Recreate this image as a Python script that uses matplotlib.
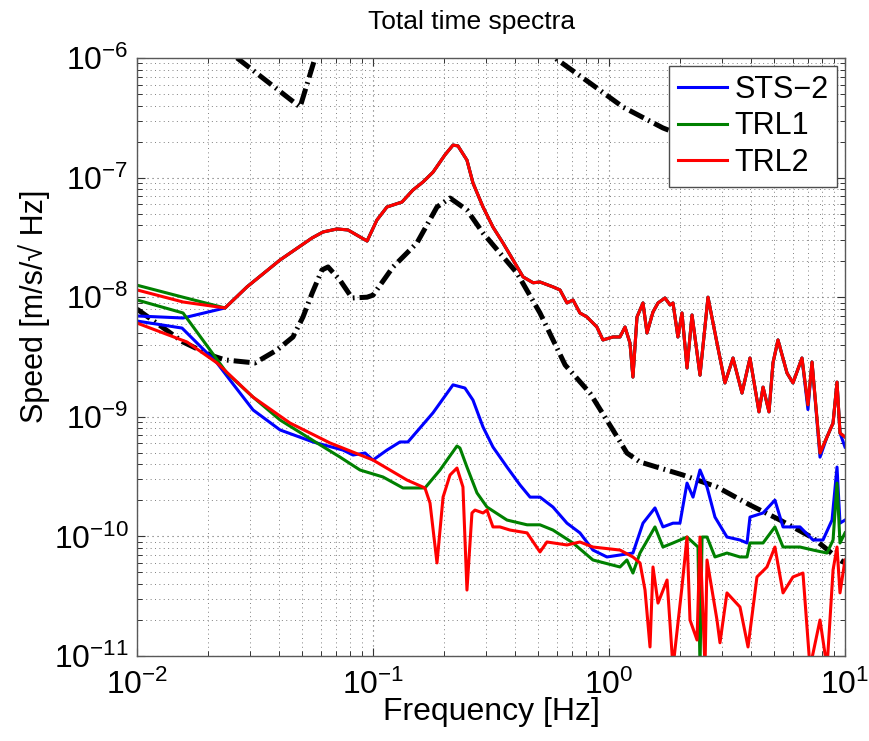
import numpy as np
import matplotlib
matplotlib.use("Agg")
import matplotlib.pyplot as plt
from matplotlib.ticker import LogLocator, NullFormatter

plt.rcParams['font.family'] = ['Liberation Sans', 'DejaVu Sans']
plt.rcParams['mathtext.fontset'] = 'custom'
plt.rcParams['mathtext.rm'] = 'Liberation Sans'
plt.rcParams['mathtext.it'] = 'Liberation Sans:italic'

# ---------------- data ----------------
# Upper (total) spectra: sensor-specific start, then common part
sts2_up_start_f = [0.0100, 0.01567]
sts2_up_start_v = [6.97e-9, 6.70e-9]
trl1_up_start_f = [0.0100, 0.01567]
trl1_up_start_v = [1.26e-8, 1.00e-8]
trl2_up_start_f = [0.0100, 0.01567]
trl2_up_start_v = [1.15e-8, 9.12e-9]

up_f = [0.02361, 0.02925, 0.0404, 0.0552, 0.0614, 0.0704, 0.0783, 0.0944, 0.1039,
        0.1146, 0.1327, 0.1476, 0.1629, 0.1796, 0.2019, 0.2183, 0.2291, 0.2501,
        0.2652, 0.2925, 0.3223, 0.3555, 0.3921, 0.4323, 0.4768, 0.5100, 0.5788,
        0.6199, 0.6637, 0.7036, 0.7530, 0.8064, 0.8888, 0.9424, 1.039, 1.113,
        1.169, 1.227, 1.263, 1.314, 1.393, 1.449, 1.536, 1.613, 1.727, 1.814,
        1.867, 1.959, 2.038, 2.141, 2.248, 2.430, 2.627, 2.868, 3.100, 3.353,
        3.661, 3.957, 4.321, 4.495, 4.764, 4.953, 5.200, 5.680, 6.020, 6.571,
        6.966, 7.248, 7.836, 8.390, 8.900, 9.250, 9.523, 10.0]
up_v = [8.13e-9, 1.22e-8, 2.05e-8, 3.13e-8, 3.51e-8, 3.72e-8, 3.65e-8, 2.95e-8, 4.42e-8,
        5.68e-8, 6.25e-8, 7.87e-8, 9.19e-8, 1.11e-7, 1.55e-7, 1.87e-7, 1.84e-7, 1.40e-7,
        9.02e-8, 5.68e-8, 3.86e-8, 2.84e-8, 2.05e-8, 1.48e-8, 1.32e-8, 1.34e-8, 1.22e-8,
        1.15e-8, 8.95e-9, 9.48e-9, 7.38e-9, 6.83e-9, 5.63e-9, 4.39e-9, 4.65e-9, 4.65e-9,
        5.63e-9, 4.14e-9, 2.15e-9, 6.83e-9, 8.95e-9, 5.02e-9, 7.52e-9, 8.95e-9, 9.85e-9, 8.61e-9,
        8.95e-9, 4.65e-9, 7.38e-9, 2.56e-9, 7.10e-9, 2.23e-9, 1.00e-8, 4.14e-9, 1.92e-9, 3.10e-9,
        1.58e-9, 3.10e-9, 1.10e-9, 1.77e-9, 1.10e-9, 2.82e-9, 4.39e-9, 2.32e-9, 1.92e-9, 3.10e-9,
        1.26e-9, 2.87e-9, 4.98e-10, 6.78e-10, 8.87e-10, 1.95e-9, 7.32e-10, 6.78e-10]
# STS-2 upper spectrum differs slightly in the deepest dips
sts2_up_v = list(up_v)
sts2_up_v[66] = 1.15e-9
sts2_up_v[68] = 4.60e-10
sts2_up_v[73] = 5.59e-10

# Lower (residual) spectra
sts2_lo_f = [0.0100, 0.01552, 0.02183, 0.02477, 0.03104, 0.0404, 0.0557, 0.0746, 0.0823,
             0.0925, 0.1000, 0.1146, 0.1301, 0.1406, 0.1581, 0.1796, 0.2183, 0.2452,
             0.2652, 0.2925, 0.3223, 0.3696, 0.4198, 0.4630, 0.5100, 0.5788, 0.6637,
             0.7530, 0.8549, 0.9799, 1.113, 1.263, 1.393, 1.566, 1.693, 1.867, 1.998,
             2.141, 2.270, 2.430, 2.602, 2.812, 3.161, 3.589, 3.845, 3.957, 4.495,
             5.047, 5.463, 6.445, 7.320, 8.067, 8.812, 9.250, 9.523, 10.0]
sts2_lo_v = [6.32e-9, 5.52e-9, 2.82e-9, 2.03e-9, 1.14e-9, 7.76e-10, 6.16e-10, 5.27e-10, 4.79e-10,
             4.98e-10, 4.35e-10, 5.27e-10, 6.16e-10, 6.16e-10, 8.06e-10, 1.08e-9, 1.85e-9, 1.74e-9,
             1.38e-9, 8.22e-10, 5.59e-10, 3.80e-10, 2.69e-10, 2.13e-10, 2.13e-10, 1.76e-10, 1.29e-10,
             1.07e-10, 7.69e-11, 6.73e-11, 6.99e-11, 7.26e-11, 1.29e-10, 1.73e-10, 1.20e-10, 1.29e-10, 1.29e-10,
             2.79e-10, 2.13e-10, 3.59e-10, 2.59e-10, 1.45e-10, 9.88e-11, 9.33e-11, 8.81e-11, 1.45e-10, 1.57e-10,
             2.01e-10, 1.20e-10, 1.20e-10, 9.33e-11, 9.33e-11, 1.37e-10, 3.80e-10, 1.29e-10, 1.37e-10]

trl1_lo_f = [0.0100, 0.01567, 0.02405, 0.03104, 0.0404, 0.0579, 0.0724, 0.0881, 0.1102,
             0.1340, 0.1660, 0.1923, 0.2269, 0.2336, 0.2501, 0.2758, 0.3040, 0.3696,
             0.4496, 0.5100, 0.5788, 0.7036, 0.8549, 1.113, 1.191, 1.263, 1.353, 1.566,
             1.693, 1.867, 2.141, 2.383, 2.430, 2.479, 2.602, 2.812, 3.161, 3.589, 3.845,
             3.957, 4.495, 5.047, 5.463, 6.445, 7.320, 8.390, 8.900, 9.250, 9.523, 10.0]
trl1_lo_v = [9.48e-9, 7.38e-9, 2.32e-9, 1.46e-9, 9.40e-10, 6.04e-10, 4.61e-10, 3.59e-10, 3.14e-10,
             2.54e-10, 2.54e-10, 3.59e-10, 5.70e-10, 5.48e-10, 3.80e-10, 2.31e-10, 1.76e-10, 1.37e-10,
             1.25e-10, 1.25e-10, 1.13e-10, 8.81e-11, 6.35e-11, 5.55e-11, 6.35e-11, 4.94e-11, 7.26e-11, 1.20e-10,
             8.15e-11, 8.81e-11, 9.88e-11, 8.15e-11, 8.0e-12, 9.88e-11, 9.88e-11, 6.73e-11, 7.26e-11, 6.73e-11, 6.73e-11,
             8.81e-11, 8.81e-11, 1.20e-10, 8.15e-11, 8.15e-11, 7.69e-11, 7.26e-11, 9.33e-11, 2.79e-10, 8.81e-11, 1.07e-10]

trl2_lo_f = [0.0100, 0.01629, 0.02183, 0.03104, 0.0445, 0.0658, 0.1000, 0.1393, 0.1660,
             0.1744, 0.1867, 0.1981, 0.2120, 0.2269, 0.2405, 0.2501, 0.2626, 0.2705,
             0.2925, 0.3040, 0.3223, 0.3450, 0.3807, 0.4496, 0.5100, 0.5457, 0.6637,
             0.7530, 0.8549, 1.113, 1.263, 1.353, 1.421, 1.492, 1.536, 1.613, 1.762,
             1.867, 2.038, 2.141, 2.204, 2.361, 2.430, 2.552, 2.602, 2.868, 2.953,
             3.161, 3.589, 3.882, 4.236, 4.670, 5.047, 5.463, 6.020, 6.635, 7.108,
             7.836, 8.390, 8.900, 9.250, 9.523, 10.0]
trl2_lo_v = [6.08e-9, 4.22e-9, 2.82e-9, 1.46e-9, 8.87e-10, 6.04e-10, 4.35e-10, 2.96e-10, 2.54e-10,
             1.90e-10, 6.00e-11, 2.13e-10, 3.26e-10, 3.73e-10, 2.59e-10, 3.56e-11, 1.57e-10, 1.66e-10,
             1.57e-10, 1.66e-10, 1.20e-10, 1.20e-10, 1.13e-10, 1.07e-10, 7.41e-11, 8.98e-11, 8.48e-11,
             8.98e-11, 8.15e-11, 7.69e-11, 6.73e-11, 6.00e-11, 3.56e-11, 1.19e-11, 5.55e-11, 2.77e-11, 4.32e-11,
             8.0e-12, 3.78e-11, 9.88e-11, 2.00e-11, 1.36e-11, 9.88e-11, 8.0e-12, 6.35e-11, 2.00e-11, 1.29e-11,
             3.37e-11, 2.57e-11, 1.19e-11, 4.58e-11, 5.55e-11, 8.15e-11, 3.37e-11, 4.58e-11, 4.94e-11, 8.0e-12,
             2.00e-11, 8.0e-12, 5.24e-11, 8.15e-11, 3.37e-11, 6.35e-11]

# Low-noise model (dash-dot, lower)
nlnm_f = [0.0100, 0.01567, 0.02037, 0.02361, 0.0316, 0.0392, 0.0458, 0.0505, 0.0552,
          0.0608, 0.0645, 0.0724, 0.0815, 0.0944, 0.1000, 0.1216, 0.1535, 0.1867,
          0.2120, 0.2501, 0.2925, 0.3450, 0.4077, 0.5100, 0.652, 0.8302, 1.039,
          1.191, 1.353, 2.058, 2.868, 3.957, 5.305, 7.320, 9.523, 10.0]
nlnm_v = [7.95e-9, 4.22e-9, 3.29e-9, 2.99e-9, 2.82e-9, 3.62e-9, 4.65e-9, 6.83e-9, 1.08e-8,
          1.69e-8, 1.79e-8, 1.39e-8, 9.85e-9, 1.00e-8, 1.04e-8, 1.79e-8, 2.84e-8, 5.68e-8,
          6.75e-8, 5.36e-8, 3.44e-8, 2.34e-8, 1.59e-8, 7.38e-9, 2.71e-9, 1.58e-9, 7.76e-10,
          4.98e-10, 4.19e-10, 3.26e-10, 2.59e-10, 1.83e-10, 1.37e-10, 9.70e-11, 6.35e-11, 6.0e-11]

# High-noise model (dash-dot, upper) - two visible pieces
nhnm1_f = [0.0214, 0.02655, 0.0491, 0.0568, 0.0608]
nhnm1_v = [1.39e-6, 1.0e-6, 3.89e-7, 1.0e-6, 1.56e-6]
nhnm2_f = [0.510, 0.590, 0.830, 1.146, 1.693, 2.953]
nhnm2_v = [1.28e-6, 1.0e-6, 6.18e-7, 3.89e-7, 2.60e-7, 1.70e-7]

labels = ['STS\u22122', 'TRL1', 'TRL2']
colors = ['#0000ff', '#008000', '#ff0000']

# ---------------- figure ----------------
fig = plt.figure(figsize=(8.69, 7.41), dpi=100)
ax = fig.add_axes([137/869, 1-656/741, (845-137)/869, (656-58)/741])

lw = 2.2
# upper spectra
ax.plot(sts2_up_start_f + up_f, sts2_up_start_v + sts2_up_v, color=colors[0], lw=lw)
ax.plot(trl1_up_start_f + up_f, trl1_up_start_v + up_v, color=colors[1], lw=lw)
ax.plot(trl2_up_start_f + up_f, trl2_up_start_v + up_v, color=colors[2], lw=lw)
# lower spectra
l1, = ax.plot(sts2_lo_f, sts2_lo_v, color=colors[0], lw=lw)
l2, = ax.plot(trl1_lo_f, trl1_lo_v, color=colors[1], lw=lw)
l3, = ax.plot(trl2_lo_f, trl2_lo_v, color=colors[2], lw=lw)

dash = [3.2, 1.0, 0.35, 1.0]
for f, v in [(nlnm_f, nlnm_v), (nhnm1_f, nhnm1_v), (nhnm2_f, nhnm2_v)]:
    ln, = ax.plot(f, v, color='black', lw=3.6, zorder=1.5)
    ln.set_dashes(dash)

ax.set_xscale('log')
ax.set_yscale('log')
ax.set_xlim(1e-2, 1e1)
ax.set_ylim(1e-11, 1e-6)

ax.xaxis.set_major_locator(LogLocator(base=10, numticks=10))
ax.yaxis.set_major_locator(LogLocator(base=10, numticks=10))
ax.xaxis.set_minor_locator(LogLocator(base=10, subs=np.arange(2, 10), numticks=20))
ax.yaxis.set_minor_locator(LogLocator(base=10, subs=np.arange(2, 10), numticks=20))
ax.xaxis.set_minor_formatter(NullFormatter())
ax.yaxis.set_minor_formatter(NullFormatter())

ax.grid(True, which='major', linestyle=(0, (1, 3.5)), color='0.4', lw=0.8)
ax.grid(True, which='minor', linestyle=(0, (1, 3.5)), color='0.5', lw=0.7)
ax.set_axisbelow(True)

ax.tick_params(which='both', direction='in', top=True, right=True, colors='0.2')
ax.tick_params(which='major', length=6, width=0.8, labelsize=23, labelcolor='black')
ax.tick_params(axis='x', which='major', pad=10)
ax.tick_params(axis='y', which='major', pad=6)
ax.tick_params(which='minor', length=3.5, width=0.7)
for s in ax.spines.values():
    s.set_color('0.35')
    s.set_linewidth(1.0)

ax.set_xlabel('Frequency [Hz]', fontsize=23)
ax.set_ylabel('Speed [m/s/\u221a Hz]', fontsize=22)
ax.xaxis.set_label_coords(0.5, -0.094)
ax.xaxis.label.set_va('center')
ax.yaxis.set_label_coords(-0.1455, 0.584)
ax.yaxis.label.set_va('center')

ax.text(0.472, 1.060, 'Total time spectra', transform=ax.transAxes,
        ha='center', va='center', fontsize=19)

leg = ax.legend([l1, l2, l3], labels, loc='upper right',
                bbox_to_anchor=(0.9887, 0.9866), borderaxespad=0,
                fontsize=22, fancybox=False, framealpha=1, edgecolor='0.3',
                handlelength=1.6, handletextpad=0.25, labelspacing=0.22,
                borderpad=0.28)
leg.get_frame().set_linewidth(1.0)

fig.savefig('out.png', dpi=100)
